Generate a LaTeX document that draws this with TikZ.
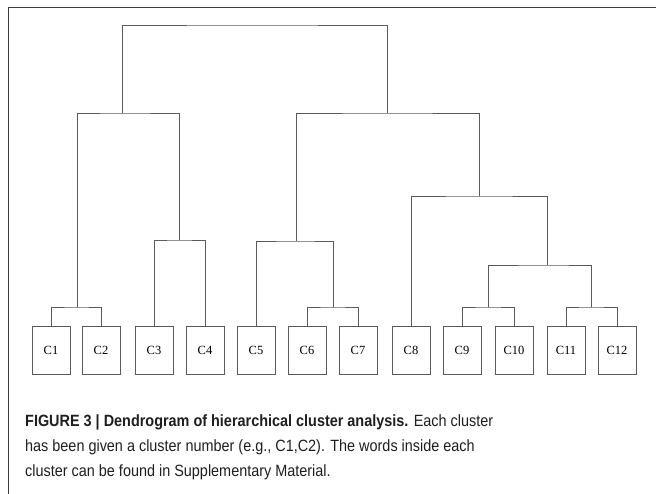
\documentclass[tikz,border=0pt]{standalone}
\usepackage{fontspec}
\setmainfont[FakeStretch=0.885]{Liberation Sans}
\newfontfamily\leaffont{Liberation Serif}
\usetikzlibrary{positioning}

\definecolor{linegray}{HTML}{5A5A5A}
\definecolor{framegray}{HTML}{3C3C3C}
\definecolor{captext}{HTML}{1E1E1E}

\tikzset{
  leaf/.style={draw=linegray, line width=0.9pt, minimum width=38pt,
    minimum height=48pt, inner sep=0pt, font=\leaffont\fontsize{12.5}{12.5}\selectfont},
  link/.style={draw=linegray, line width=0.9pt}
}

\begin{document}
\begin{tikzpicture}[x=1pt, y=-1pt]
\useasboundingbox (0,0) rectangle (656,494);

% frame
\draw[framegray, line width=1pt] (8,494) -- (8,8) -- (656,8);

% Clusters
\node [leaf] (c1) at (51,350) {C1};
\node [leaf] (c2) at (101,350) {C2};
\node [leaf] (c3) at (154,350) {C3};
\node [leaf] (c4) at (205,350) {C4};
\node [leaf] (c5) at (256,350) {C5};
\node [leaf] (c6) at (307,350) {C6};
\node [leaf] (c7) at (358,350) {C7};
\node [leaf] (c8) at (411,350) {C8};
\node [leaf] (c9) at (462,350) {C9};
\node [leaf] (c10) at (514,350) {C10};
\node [leaf] (c11) at (566,350) {C11};
\node [leaf] (c12) at (617,350) {C12};

% merge points
\coordinate (m12) at (77,307);
\coordinate (m34) at (179,240);
\coordinate (m67) at (333,307);
\coordinate (m567) at (296,241);
\coordinate (m910) at (488,307);
\coordinate (m1112) at (591,307);
\coordinate (m9to12) at (547,265);
\coordinate (m8to12) at (479,196);
\coordinate (mL) at (122,113);
\coordinate (mR) at (387,113);
\coordinate (root) at (250,25);

% Tree
\draw[link] (c1.north) |- (m12) -| (c2.north);
\draw[link] (c3.north) |- (m34) -| (c4.north);
\draw[link] (m12) |- (mL) -| (m34);
\draw[link] (c6.north) |- (m67) -| (c7.north);
\draw[link] (c5.north) |- (m567) -| (m67);
\draw[link] (c9.north) |- (m910) -| (c10.north);
\draw[link] (c11.north) |- (m1112) -| (c12.north);
\draw[link] (m910) |- (m9to12) -| (m1112);
\draw[link] (c8.north) |- (m8to12) -| (m9to12);
\draw[link] (m567) |- (mR) -| (m8to12);
\draw[link] (mL) |- (root) -| (mR);

% Caption
\node [anchor=north west, align=left, inner sep=0pt, text=captext,
  font=\fontsize{16.3}{25}\selectfont] (caption) at (25,414)
  {\textbf{FIGURE 3 | Dendrogram of hierarchical cluster analysis.} Each cluster\\
   has been given a cluster number (e.g., C1,C2). The words inside each\\
   cluster can be found in Supplementary Material.};

\end{tikzpicture}
\end{document}
